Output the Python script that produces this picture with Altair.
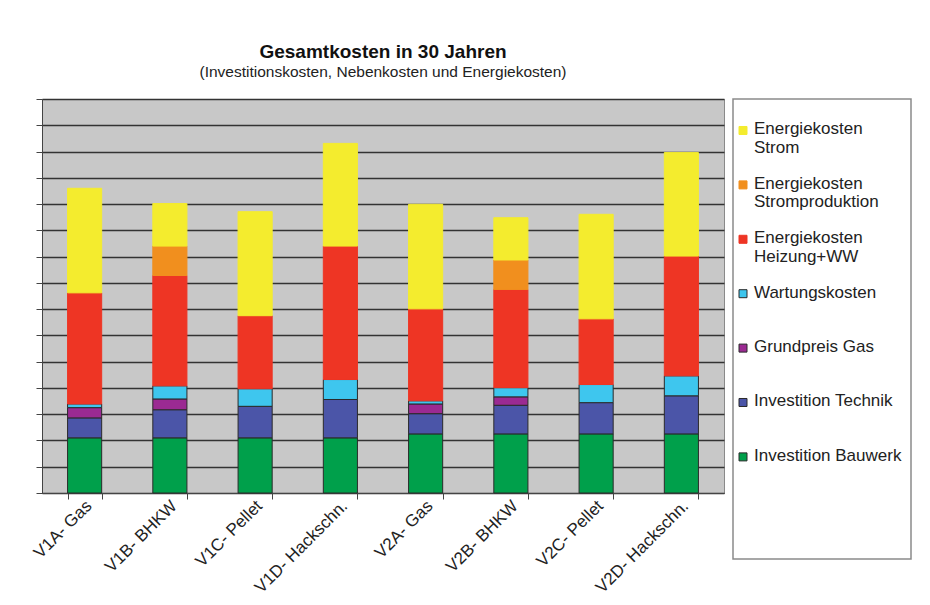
import altair as alt
import pandas as pd

categories = ["V1A- Gas", "V1B- BHKW", "V1C- Pellet", "V1D- Hackschn.",
              "V2A- Gas", "V2B- BHKW", "V2C- Pellet", "V2D- Hackschn."]

# series (bottom to top in the stack)
series_names = ["Investition Bauwerk", "Investition Technik", "Grundpreis Gas",
                "Wartungskosten", "Energiekosten Heizung+WW",
                "Energiekosten Stromproduktion", "Energiekosten Strom"]
legend_labels = ["Investition Bauwerk", "Investition Technik", "Grundpreis Gas",
                 "Wartungskosten", "Energiekosten\nHeizung+WW",
                 "Energiekosten\nStromproduktion", "Energiekosten\nStrom"]
colors = ["#00a04b", "#4b55a8", "#9b2a92", "#3ec6ee", "#ee3524", "#f18f1e", "#f4ec2e"]
strokes = ["#2a2a2a", "#2a2a2a", "#2a2a2a", "#2a2a2a", "#ee3524", "#f18f1e", "#f4ec2e"]

bauwerk    = [2.10, 2.10, 2.10, 2.10, 2.25, 2.25, 2.25, 2.25]
technik    = [0.76, 1.07, 1.20, 1.46, 0.77, 1.09, 1.19, 1.45]
grundpreis = [0.39, 0.41, 0.00, 0.00, 0.37, 0.32, 0.00, 0.00]
wartung    = [0.14, 0.50, 0.67, 0.76, 0.12, 0.35, 0.69, 0.76]
heizung    = [4.23, 4.20, 2.78, 5.08, 3.50, 3.74, 2.50, 4.56]
stromprod  = [0.00, 1.12, 0.00, 0.00, 0.00, 1.12, 0.00, 0.00]
strom      = [3.98, 1.62, 3.96, 3.91, 3.98, 1.61, 3.98, 3.94]

values = [bauwerk, technik, grundpreis, wartung, heizung, stromprod, strom]

rows = []
for si, (name, vals) in enumerate(zip(series_names, values)):
    for ci, cat in enumerate(categories):
        if vals[ci] > 0:
            rows.append({"Variante": cat, "Kosten": vals[ci], "Serie": name, "ord": si})
df = pd.DataFrame(rows)

FONT = "Liberation Sans"

color_scale = alt.Scale(domain=series_names, range=colors)
stroke_scale = alt.Scale(domain=series_names, range=strokes)

bars = alt.Chart(df).mark_bar(strokeWidth=1).encode(
    x=alt.X("Variante:N", sort=categories,
            scale=alt.Scale(paddingInner=0.6, paddingOuter=0.3),
            axis=alt.Axis(title=None, labelAngle=-45, labelAlign="right",
                          labelBaseline="middle", labelFont=FONT, labelFontSize=17,
                          labelColor="#222222", labelPadding=4, labelOffset=4,
                          tickBand="extent",
                          tickSize=6, tickColor="#444444", domainColor="#444444",
                          labelLimit=300)),
    y=alt.Y("Kosten:Q", stack="zero",
            scale=alt.Scale(domain=[0, 15], nice=False),
            axis=alt.Axis(title=None, labels=False, values=list(range(16)),
                          tickSize=6, tickColor="#444444", domainColor="#444444",
                          grid=True, gridColor="#333333", gridWidth=1.4)),
    color=alt.Color("Serie:N", scale=color_scale, legend=None),
    stroke=alt.Stroke("Serie:N", scale=stroke_scale, legend=None),
    order=alt.Order("ord:Q"),
).properties(
    width=682, height=394,
    view=alt.ViewBackground(fill="#c8c8c8", stroke="#8a8a8a", strokeWidth=1),
    title=alt.TitleParams("Gesamtkosten in 30 Jahren",
                          subtitle="(Investitionskosten, Nebenkosten und Energiekosten)",
                          font=FONT, fontSize=19, fontWeight="bold", color="#111111",
                          subtitleFont=FONT, subtitleFontSize=15.5, subtitleColor="#222222",
                          subtitlePadding=3, anchor="middle", offset=18),
)

# legend panel (top to bottom order: reverse of stack)
leg = pd.DataFrame({
    "Serie": series_names[::-1],
    "label": legend_labels[::-1],
    "pos": list(range(len(series_names))),
})
yleg = alt.Y("pos:Q", scale=alt.Scale(domain=[-0.579, 7.877], reverse=True, nice=False, zero=False),
             axis=None)
leg_sym = alt.Chart(leg).mark_square(size=64, strokeWidth=1, opacity=1).encode(
    x=alt.value(10), y=yleg,
    fill=alt.Fill("Serie:N", scale=color_scale, legend=None),
    stroke=alt.Stroke("Serie:N", scale=stroke_scale, legend=None),
)
leg_txt = alt.Chart(leg).mark_text(align="left", baseline="top", dy=-9, font=FONT,
                                   fontSize=17, lineBreak="\n", lineHeight=18.5,
                                   color="#222222").encode(
    x=alt.value(21), y=yleg, text="label:N",
)
legend_panel = alt.layer(leg_sym, leg_txt).properties(
    width=178, height=460,
    view=alt.ViewBackground(fill="white", stroke="#8a8a8a", strokeWidth=1.5),
)

chart = alt.hconcat(bars, legend_panel, spacing=9, bounds="flush").properties(
    padding={"left": 21, "top": 34, "right": 10, "bottom": 10},
    background="white",
)

chart.save("out.html", embed_options={"renderer": "svg", "actions": False})
